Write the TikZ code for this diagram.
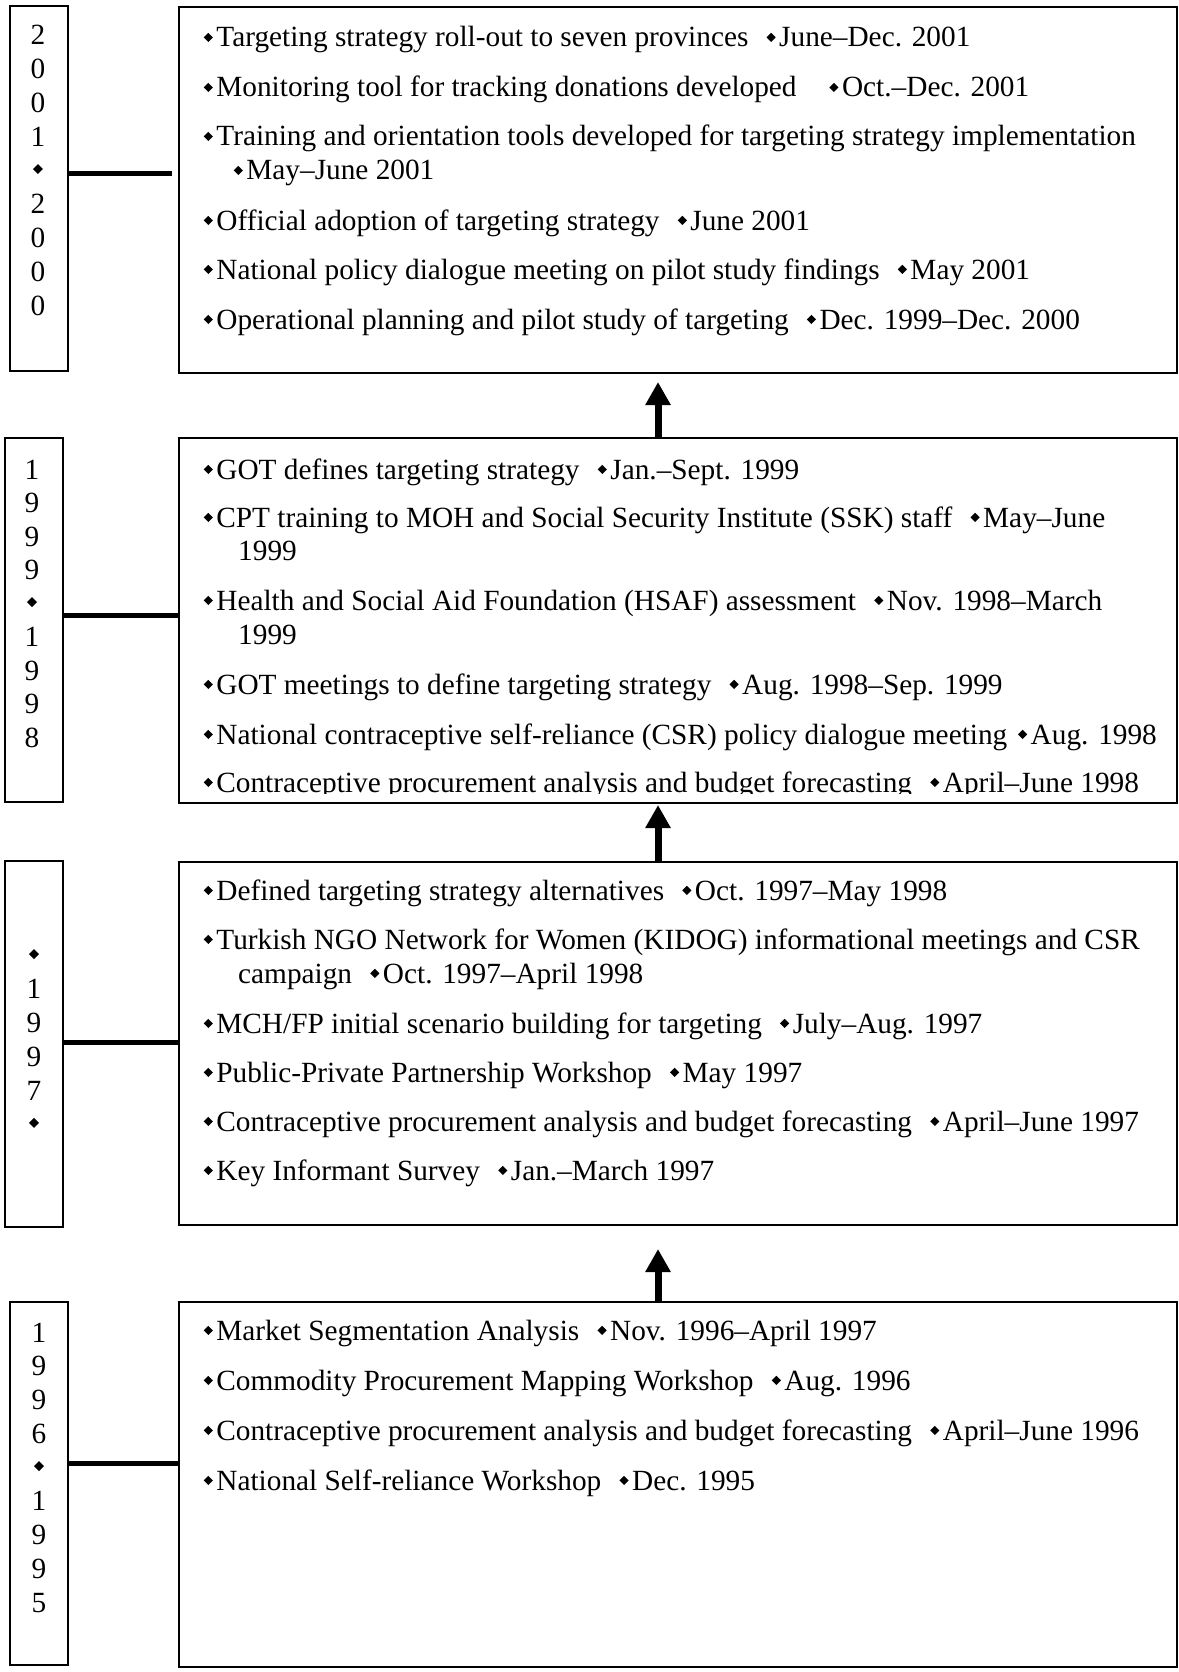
\documentclass[tikz,border=0pt]{standalone}
\usepackage{fontspec}
\setmainfont{Liberation Serif}
\usetikzlibrary{arrows.meta}
\newcommand\dm{\hspace*{3.5pt}\raisebox{5pt}{\rotatebox{45}{\rule{6.5pt}{6.5pt}}}\hspace*{3.5pt}}
\newcommand\dmy{\raisebox{6pt}{\rotatebox{45}{\rule{7pt}{7pt}}}}
\newcommand\gp{\ \ }
\begin{document}
\begin{tikzpicture}[x=1pt,y=-1pt,
  box/.style={draw, line width=2pt, inner sep=0pt},
  txt/.style={anchor=base west, inner sep=0pt, font=\fontsize{29.3}{34}\selectfont},
  yr/.style={anchor=base, inner sep=0pt, font=\fontsize{29.3}{34}\selectfont},
  conn/.style={line width=5pt},
  arr/.style={line width=7pt, -{Triangle[width=24pt,length=23pt]}}]
\useasboundingbox (0,0) rectangle (1178,1672);

% main boxes
\node[box, minimum width=998pt, minimum height=366pt] (b1) at (678,190) {};
\node[box, minimum width=998pt, minimum height=365pt] (b2) at (678,620.5) {};
\node[box, minimum width=998pt, minimum height=363pt] (b3) at (678,1043.5) {};
\node[box, minimum width=998pt, minimum height=365pt] (b4) at (678,1484.5) {};
% year boxes
\node[box, minimum width=58pt, minimum height=365pt] (y1) at (39,188.5) {};
\node[box, minimum width=58pt, minimum height=364pt] (y2) at (34,620) {};
\node[box, minimum width=58pt, minimum height=366pt] (y3) at (34,1044) {};
\node[box, minimum width=58pt, minimum height=363pt] (y4) at (39,1483.5) {};

% year labels
\foreach \c [count=\i] in {2,0,0,1,\dmy,2,0,0,0}
  \node[yr] (ya\i) at (38,45+33.75*\i-33.75) {\c};
\foreach \c [count=\i] in {1,9,9,9,\dmy,1,9,9,8}
  \node[yr] (yb\i) at (32,479+33.5*\i-33.5) {\c};
\foreach \c [count=\i] in {\dmy,1,9,9,7,\dmy}
  \node[yr] (yc\i) at (34,965+33.75*\i-33.75) {\c};
\foreach \c [count=\i] in {1,9,9,6,\dmy,1,9,9,5}
  \node[yr] (yd\i) at (39,1342+33.75*\i-33.75) {\c};

% connectors
\draw[conn, shorten >=6pt] (y1.east |- 0,174) -- (b1.west |- 0,174);
\draw[conn] (y2.east |- 0,615) -- (b2.west |- 0,615);
\draw[conn] (y3.east |- 0,1042) -- (b3.west |- 0,1042);
\draw[conn] (y4.east |- 0,1463) -- (b4.west |- 0,1463);

% arrows
\coordinate (a1) at (658,382);
\coordinate (a2) at (658,805);
\coordinate (a3) at (658,1249);
\draw[arr] (b2.north -| a1) -- (a1);
\draw[arr] (b3.north -| a2) -- (a2);
\draw[arr] (b4.north -| a3) -- (a3);

% box 1 text
\node[txt] (t11) at (200,47) {\dm Targeting strategy roll-out to seven provinces\gp\dm June--Dec. 2001};
\node[txt] (t12) at (200,97) {\dm Monitoring tool for tracking donations developed\ \ \ \ \dm Oct.--Dec. 2001};
\node[txt] (t13) at (200,146) {\dm Training and orientation tools developed for targeting strategy implementation};
\node[txt] (t14) at (230,180) {\dm May--June 2001};
\node[txt] (t15) at (200,230) {\dm Official adoption of targeting strategy\gp\dm June 2001};
\node[txt] (t16) at (200,279) {\dm National policy dialogue meeting on pilot study findings\gp\dm May 2001};
\node[txt] (t17) at (200,329) {\dm Operational planning and pilot study of targeting\gp\dm Dec. 1999--Dec. 2000};

% box 2 text
\node[txt] (t21) at (200,479) {\dm GOT defines targeting strategy\gp\dm Jan.--Sept. 1999};
\node[txt] (t22) at (200,527) {\dm CPT training to MOH and Social Security Institute (SSK) staff\gp\dm May--June};
\node[txt] (t23) at (238,560) {1999};
\node[txt] (t24) at (200,610) {\dm Health and Social Aid Foundation (HSAF) assessment\gp\dm Nov. 1998--March};
\node[txt] (t25) at (238,644) {1999};
\node[txt] (t26) at (200,694) {\dm GOT meetings to define targeting strategy\gp\dm Aug. 1998--Sep. 1999};
\node[txt] (t27) at (200,744) {\dm National contraceptive self-reliance (CSR) policy dialogue meeting\ \dm Aug. 1998};
\begin{scope}
\clip (179,438) rectangle (1177,793);
\node[txt] (t28) at (200,792) {\dm Contraceptive procurement analysis and budget forecasting\gp\dm April--June 1998};
\end{scope}

% box 3 text
\node[txt] (t31) at (200,900) {\dm Defined targeting strategy alternatives\gp\dm Oct. 1997--May 1998};
\node[txt] (t32) at (200,949) {\dm Turkish NGO Network for Women (KIDOG) informational meetings and CSR};
\node[txt] (t33) at (238,983) {campaign\gp\dm Oct. 1997--April 1998};
\node[txt] (t34) at (200,1033) {\dm MCH/FP initial scenario building for targeting\gp\dm July--Aug. 1997};
\node[txt] (t35) at (200,1082) {\dm Public-Private Partnership Workshop\gp\dm May 1997};
\node[txt] (t36) at (200,1131) {\dm Contraceptive procurement analysis and budget forecasting\gp\dm April--June 1997};
\node[txt] (t37) at (200,1180) {\dm Key Informant Survey\gp\dm Jan.--March 1997};

% box 4 text
\node[txt] (t41) at (200,1340) {\dm Market Segmentation Analysis\gp\dm Nov. 1996--April 1997};
\node[txt] (t42) at (200,1390) {\dm Commodity Procurement Mapping Workshop\gp\dm Aug. 1996};
\node[txt] (t43) at (200,1440) {\dm Contraceptive procurement analysis and budget forecasting\gp\dm April--June 1996};
\node[txt] (t44) at (200,1490) {\dm National Self-reliance Workshop\gp\dm Dec. 1995};
\end{tikzpicture}
\end{document}
